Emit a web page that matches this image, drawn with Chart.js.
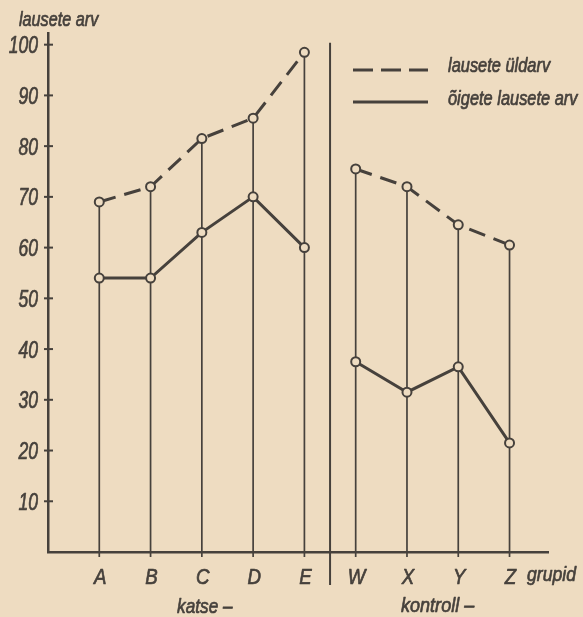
<!DOCTYPE html>
<html><head><meta charset="utf-8">
<script src="https://cdn.jsdelivr.net/npm/chart.js@4/dist/chart.umd.min.js"></script>
<style>
html,body{margin:0;padding:0;background:#eedcc1;}
#wrap{position:relative;width:583px;height:617px;}
</style></head><body>
<div id="wrap"><canvas id="c" width="583" height="617"></canvas></div>
<script>
// ---- data ----
const categories = ['A','B','C','D','E','W','X','Y','Z'];
const katseGroup = ['A','B','C','D','E'];
const kontrollGroup = ['W','X','Y','Z'];
const totalSentences = [69, 72, 81.5, 85.5, 98.5, 75.5, 72, 64.5, 60.5];   // lausete üldarv
const correctSentences = [54, 54, 63, 70, 60, 37.5, 31.5, 36.5, 21.5];     // õigete lausete arv
const yTicks = [10, 20, 30, 40, 50, 60, 70, 80, 90, 100];
const yTitle = 'lausete arv';
const xTitle = 'grupid';
const groupLabels = ['katse –', 'kontroll –'];
const seriesNames = ['lausete üldarv', 'õigete lausete arv'];

// ---- styles ----
const ink = '#46413c';
const bg = '#eedcc1';
const FONT = "'Liberation Sans', Arial, sans-serif";

function pts(values, names){
  return names.map(n => { const i = categories.indexOf(n); return {x: i + 1, y: values[i]}; });
}
function lineDs(values, names, dashed){
  return {
    data: pts(values, names),
    borderColor: ink, borderWidth: 3, borderDash: dashed ? [17, 9] : [],
    pointRadius: 4.5, pointBorderWidth: 2, pointBackgroundColor: bg, pointBorderColor: ink,
    showLine: true, fill: false, tension: 0
  };
}
// condensed italic text (no narrow font installed -> horizontal scale)
function txt(ctx, s, x, y, align, size, sx){
  ctx.save();
  ctx.font = 'italic ' + size + 'px ' + FONT;
  ctx.textAlign = align; ctx.textBaseline = 'alphabetic';
  ctx.fillStyle = ink; ctx.strokeStyle = ink; ctx.lineWidth = 0.7; ctx.lineJoin = 'round';
  ctx.translate(x, y); ctx.scale(sx, 1);
  ctx.fillText(s, 0, 0);
  ctx.strokeText(s, 0, 0);
  ctx.restore();
}

const deco = {
  id: 'deco',
  beforeDatasetsDraw(chart){
    const {ctx, scales:{x, y}} = chart;
    const y0 = y.getPixelForValue(0);
    ctx.save();
    ctx.strokeStyle = ink;
    // drop lines
    ctx.lineWidth = 1.7;
    totalSentences.forEach((v, i) => {
      const px = x.getPixelForValue(i + 1);
      ctx.beginPath(); ctx.moveTo(px, y.getPixelForValue(v)); ctx.lineTo(px, y0 + 5); ctx.stroke();
    });
    // group separator
    const sx = x.getPixelForValue(katseGroup.length + 0.5);
    ctx.lineWidth = 2;
    ctx.beginPath(); ctx.moveTo(sx, y.getPixelForValue(100) - 2); ctx.lineTo(sx, y0 + 33); ctx.stroke();
    // y tick crosses
    const ax = chart.chartArea.left;
    ctx.lineWidth = 2;
    yTicks.forEach(t => {
      const py = y.getPixelForValue(t);
      ctx.beginPath(); ctx.moveTo(ax - 4, py); ctx.lineTo(ax + 5, py); ctx.stroke();
    });
    ctx.restore();
  },
  afterDraw(chart){
    const {ctx, scales:{x, y}} = chart;
    const y0 = y.getPixelForValue(0);
    const ax = chart.chartArea.left;
    ctx.save();
    // tick labels from the scales' own ticks
    y.ticks.forEach(t => {
      if (!yTicks.includes(t.value)) return;
      txt(ctx, String(t.value), ax - 10, y.getPixelForValue(t.value) + 8.5, 'right', 24, 0.73);
    });
    x.ticks.forEach(t => {
      const lab = Number.isInteger(t.value) ? categories[t.value - 1] : undefined;
      if (!lab) return;
      txt(ctx, lab, x.getPixelForValue(t.value) + 1, y0 + 32, 'center', 22, 0.85);
    });
    txt(ctx, yTitle, 19, 26, 'left', 20, 0.81);
    txt(ctx, xTitle, 527, y0 + 29, 'left', 21, 0.84);
    const kc = (x.getPixelForValue(1) + x.getPixelForValue(katseGroup.length)) / 2;
    const cc = (x.getPixelForValue(katseGroup.length + 1) + x.getPixelForValue(categories.length)) / 2;
    txt(ctx, groupLabels[0], kc + 3, y0 + 61, 'center', 21, 0.82);
    txt(ctx, groupLabels[1], cc + 5, y0 + 60, 'center', 21, 0.86);
    // legend
    const lx0 = 353, lx1 = 428, tx = 448;
    const ly = [70, 102];
    ctx.strokeStyle = ink; ctx.lineWidth = 3;
    ctx.setLineDash([20, 8]);
    ctx.beginPath(); ctx.moveTo(lx0, ly[0]); ctx.lineTo(lx1, ly[0]); ctx.stroke();
    ctx.setLineDash([]);
    ctx.beginPath(); ctx.moveTo(lx0, ly[1]); ctx.lineTo(lx1, ly[1]); ctx.stroke();
    txt(ctx, seriesNames[0], tx, ly[0] + 2, 'left', 20, 0.82);
    txt(ctx, seriesNames[1], tx, ly[1] + 3, 'left', 20, 0.82);
    ctx.restore();
  }
};

new Chart(document.getElementById('c'), {
  type: 'scatter',
  data: {
    datasets: [
      lineDs(totalSentences, katseGroup, true),
      lineDs(totalSentences, kontrollGroup, true),
      lineDs(correctSentences, katseGroup, false),
      lineDs(correctSentences, kontrollGroup, false)
    ]
  },
  options: {
    responsive: false, animation: false, devicePixelRatio: 1,
    layout: { padding: { left: 0, top: 33, right: 35, bottom: 0 } },
    plugins: { legend: { display: false }, tooltip: { enabled: false } },
    scales: {
      x: {
        type: 'linear', min: 0, max: 9.75,
        grid: { display: false, drawTicks: false },
        border: { display: true, color: ink, width: 2.5 },
        ticks: { display: false, stepSize: 1, autoSkip: false, includeBounds: false },
        afterFit: s => { s.height = 65; }
      },
      y: {
        min: 0, max: 102.3,
        grid: { display: false, drawTicks: false },
        border: { display: true, color: ink, width: 2.5 },
        ticks: { display: false, stepSize: 10, autoSkip: false, includeBounds: false },
        afterFit: s => { s.width = 48; }
      }
    }
  },
  plugins: [deco]
});
</script>
</body></html>
